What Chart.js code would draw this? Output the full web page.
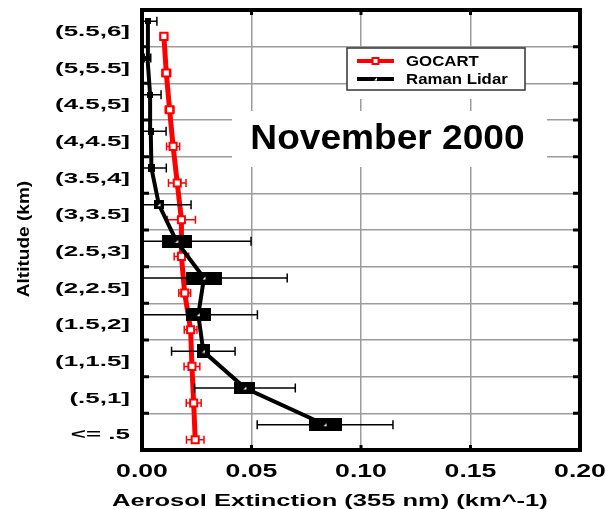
<!DOCTYPE html>
<html>
<head>
<meta charset="utf-8">
<title>Aerosol extinction profile</title>
<script src="https://cdn.jsdelivr.net/npm/chart.js@4.4.1/dist/chart.umd.min.js"></script>
<style>
  html, body { margin: 0; padding: 0; background: #fff; }
</style>
</head>
<body>
<canvas id="profile" width="606" height="509"></canvas>
<script>
// altitude bins (km), lowest first
const altitudeBins = ['<= .5', '(.5,1]', '(1,1.5]', '(1.5,2]', '(2,2.5]', '(2.5,3]',
                      '(3,3.5]', '(3.5,4]', '(4,4.5]', '(4.5,5]', '(5,5.5]', '(5.5,6]'];

// GOCART extinction and its spread (km^-1)
const gocartExt = [0.0243, 0.0236, 0.0228, 0.0222, 0.0195, 0.0180, 0.0180, 0.0161, 0.0142, 0.0126, 0.0111, 0.0100];
const gocartErr = [0.0040, 0.0034, 0.0036, 0.0029, 0.0027, 0.0033, 0.0064, 0.0040, 0.0030, 0.0020, 0.0020, 0.0017];

// Raman lidar extinction and its spread (km^-1)
const lidarExt = [0.0836, 0.0470, 0.0280, 0.0257, 0.0283, 0.0158, 0.0077, 0.0043, 0.0040, 0.0037, 0.0025, 0.0027];
const lidarErr = [0.0310, 0.0230, 0.0145, 0.0270, 0.0380, 0.0340, 0.0147, 0.0068, 0.0070, 0.0050, 0.0015, 0.0041];

const xTicks = [0, 0.05, 0.10, 0.15, 0.20];

// box marker size for the lidar points (px)
const lidarBoxW = [33, 21, 13, 25, 36, 30, 10, 7, 6, 6, 5, 6];
const lidarBoxH = [13, 12, 14, 13, 13, 13, 9, 8, 7, 6, 5, 6];

const FONT = '"Liberation Sans", Arial, Helvetica, sans-serif';
const GRID = '#9c9c9c';
const RED = '#ff0000';

// the two series sit a little apart inside each bin
const GOCART_SHIFT = -0.22;
const LIDAR_SHIFT = 0.19;

function boxMarker(w, h) {
    const c = document.createElement('canvas');
    c.width = w;
    c.height = h;
    const g = c.getContext('2d');
    g.fillStyle = '#000';
    g.fillRect(0, 0, w, h);
    if (w > 8) {
        g.fillStyle = '#fff';
        g.beginPath();
        g.moveTo(w / 2 - 1.5, h / 2 + 1.5);
        g.lineTo(w / 2 + 1.5, h / 2 + 1.5);
        g.lineTo(w / 2 + 1.5, h / 2 - 1.5);
        g.closePath();
        g.fill();
    }
    return c;
}

// wide lettering used on the axes
function stretchText(ctx, text, x, y, sx, align) {
    ctx.save();
    ctx.translate(x, y);
    ctx.scale(sx, 1);
    ctx.textAlign = align;
    ctx.fillText(text, 0, 0);
    ctx.restore();
}

const errorBars = {
    id: 'errorBars',
    beforeDatasetDraw(chart, args) {
        const ds = chart.data.datasets[args.index];
        if (!ds.errors) return;
        const { ctx, chartArea: ca, scales: { x } } = chart;
        ctx.save();
        ctx.beginPath();
        ctx.rect(ca.left, ca.top, ca.right - ca.left, ca.bottom - ca.top);
        ctx.clip();
        ctx.strokeStyle = ds.borderColor;
        ctx.lineWidth = 1.5;
        const c = ds.capSize / 2;
        args.meta.data.forEach((pt, i) => {
            const v = ds.data[i].x, e = ds.errors[i];
            const x0 = x.getPixelForValue(v - e);
            const x1 = x.getPixelForValue(v + e);
            const y = pt.y;
            ctx.beginPath();
            ctx.moveTo(x0, y); ctx.lineTo(x1, y);
            ctx.moveTo(x0, y - c); ctx.lineTo(x0, y + c);
            ctx.moveTo(x1, y - c); ctx.lineTo(x1, y + c);
            ctx.stroke();
        });
        ctx.restore();
    }
};

const frame = {
    id: 'frame',
    beforeDatasetsDraw(chart) {
        // blank out the grid behind the legend and the title
        const { ctx, chartArea: ca } = chart;
        ctx.save();
        ctx.fillStyle = '#fff';
        ctx.fillRect(ca.left + 205, ca.top + 38, 178, 51);
        ctx.fillRect(ca.left + 90, ca.top + 101, 315, 56);
        ctx.restore();
    },
    afterDraw(chart) {
        const { ctx, chartArea: ca, scales: { x, y } } = chart;
        ctx.save();

        // frame and inward ticks
        ctx.strokeStyle = '#000';
        ctx.lineWidth = 4;
        ctx.strokeRect(ca.left, ca.top, ca.right - ca.left, ca.bottom - ca.top);
        ctx.lineWidth = 3;
        ctx.beginPath();
        for (let i = 1; i < altitudeBins.length; i++) {
            const py = y.getPixelForValue(i - 0.5);
            ctx.moveTo(ca.left, py); ctx.lineTo(ca.left + 7, py);
            ctx.moveTo(ca.right, py); ctx.lineTo(ca.right - 7, py);
        }
        xTicks.slice(1, -1).forEach(v => {
            const px = x.getPixelForValue(v);
            ctx.moveTo(px, ca.top); ctx.lineTo(px, ca.top + 5);
            ctx.moveTo(px, ca.bottom); ctx.lineTo(px, ca.bottom - 5);
        });
        ctx.stroke();

        // tick labels
        ctx.fillStyle = '#000';
        ctx.textBaseline = 'middle';
        ctx.font = 'bold 15px ' + FONT;
        altitudeBins.forEach((lab, i) => {
            stretchText(ctx, lab, ca.left - 12, y.getPixelForValue(i) + 3.5, 1.73, 'right');
        });
        ctx.textBaseline = 'alphabetic';
        ctx.font = 'bold 18px ' + FONT;
        x.ticks.forEach(t => {
            stretchText(ctx, t.value.toFixed(2), x.getPixelForValue(t.value), ca.bottom + 27, 1.48, 'center');
        });

        // axis titles
        ctx.font = 'bold 17px ' + FONT;
        stretchText(ctx, 'Aerosol Extinction (355 nm) (km^-1)', ca.left - 30, ca.bottom + 56, 1.5, 'left');
        ctx.save();
        ctx.translate(24, (ca.top + ca.bottom) / 2 + 9);
        ctx.rotate(-Math.PI / 2);
        ctx.scale(1.12, 1);
        ctx.textAlign = 'center';
        ctx.textBaseline = 'middle';
        ctx.fillText('Altitude (km)', 0, 0);
        ctx.restore();

        // legend
        const lx = ca.left + 205, ly = ca.top + 38;
        ctx.fillStyle = '#fff';
        ctx.fillRect(lx, ly, 178, 42);
        ctx.strokeStyle = '#333';
        ctx.lineWidth = 1.5;
        ctx.strokeRect(lx, ly, 178, 42);
        const entries = [chart.data.datasets[0], chart.data.datasets[1]];
        entries.forEach((ds, k) => {
            const ry = ly + 13 + k * 18;
            ctx.strokeStyle = ds.borderColor;
            ctx.lineWidth = 4;
            ctx.beginPath();
            ctx.moveTo(lx + 10, ry); ctx.lineTo(lx + 47, ry);
            ctx.stroke();
            if (k === 0) {
                ctx.fillStyle = '#fff';
                ctx.lineWidth = 2;
                ctx.fillRect(lx + 25.5, ry - 3, 6, 6);
                ctx.strokeRect(lx + 25.5, ry - 3, 6, 6);
            } else {
                ctx.fillStyle = '#fff';
                ctx.beginPath();
                ctx.moveTo(lx + 27, ry + 1.5);
                ctx.lineTo(lx + 30, ry + 1.5);
                ctx.lineTo(lx + 30, ry - 1.5);
                ctx.closePath();
                ctx.fill();
            }
            ctx.fillStyle = '#000';
            ctx.font = 'bold 15px ' + FONT;
            ctx.textBaseline = 'middle';
            stretchText(ctx, ds.label, lx + 59, ry + 1, 1.12, 'left');
        });

        // month title
        ctx.fillStyle = '#000';
        ctx.font = 'bold 35px ' + FONT;
        ctx.textBaseline = 'alphabetic';
        stretchText(ctx, 'November 2000', ca.left + 245.5, ca.top + 139, 1.06, 'center');

        ctx.restore();
    }
};

new Chart(document.getElementById('profile'), {
    type: 'scatter',
    data: {
        datasets: [
            {
                label: 'GOCART',
                data: gocartExt.map((v, i) => ({ x: v, y: i + GOCART_SHIFT })),
                errors: gocartErr,
                capSize: 8,
                showLine: true,
                borderColor: RED,
                borderWidth: 5,
                pointStyle: 'rect',
                pointRadius: 5,
                pointBorderWidth: 2,
                pointBorderColor: RED,
                pointBackgroundColor: '#fff',
                order: 1
            },
            {
                label: 'Raman Lidar',
                data: lidarExt.map((v, i) => ({ x: v, y: i + LIDAR_SHIFT })),
                errors: lidarErr,
                capSize: 9,
                showLine: true,
                borderColor: '#000',
                borderWidth: 4,
                pointStyle: lidarExt.map((_, i) => boxMarker(lidarBoxW[i], lidarBoxH[i])),
                pointRadius: 6,
                order: 0
            }
        ]
    },
    options: {
        responsive: false,
        animation: false,
        layout: { padding: { left: 0, top: 8, right: 26, bottom: 0 } },
        plugins: {
            legend: { display: false },
            tooltip: { enabled: false }
        },
        scales: {
            x: {
                type: 'linear',
                min: 0,
                max: 0.2,
                afterBuildTicks: s => { s.ticks = xTicks.map(v => ({ value: v })); },
                afterFit: s => { s.height = 59; },
                grid: { color: GRID, lineWidth: 1.5, drawTicks: false },
                border: { display: false },
                ticks: { display: false }
            },
            y: {
                type: 'linear',
                min: -0.5,
                max: altitudeBins.length - 0.5,
                afterBuildTicks: s => { s.ticks = altitudeBins.map((_, i) => ({ value: i })); },
                afterFit: s => { s.width = 142; },
                grid: { offset: true, color: GRID, lineWidth: 1.5, drawTicks: false },
                border: { display: false },
                ticks: { display: false }
            }
        }
    },
    plugins: [errorBars, frame]
});
</script>
</body>
</html>
